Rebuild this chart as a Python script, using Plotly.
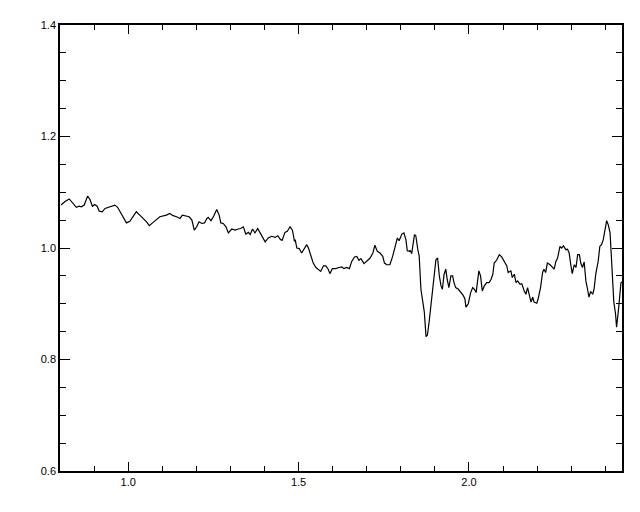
import plotly.graph_objects as go

wavelength = [
    0.803, 0.814, 0.827, 0.834, 0.842, 0.848, 0.856, 0.863, 0.871, 0.881,
    0.888, 0.892, 0.895, 0.902, 0.909, 0.915, 0.924, 0.932, 0.941, 0.951,
    0.961, 0.969, 0.976, 0.985, 0.995, 1.005, 1.015, 1.024, 1.034, 1.044,
    1.054, 1.062, 1.070, 1.081, 1.093, 1.103, 1.112, 1.122, 1.132, 1.142,
    1.148, 1.152, 1.159, 1.169, 1.179, 1.187, 1.194, 1.201, 1.208, 1.216,
    1.224, 1.231, 1.235, 1.243, 1.250, 1.260, 1.267, 1.272, 1.279, 1.287,
    1.294, 1.304, 1.314, 1.323, 1.330, 1.338, 1.345, 1.353, 1.358, 1.365,
    1.372, 1.380, 1.387, 1.394, 1.402, 1.411, 1.421, 1.431, 1.439, 1.447,
    1.452, 1.460, 1.467, 1.475, 1.482, 1.488,
    1.490, 1.495, 1.502, 1.509, 1.516, 1.524, 1.529, 1.536, 1.543, 1.551,
    1.558, 1.565, 1.573, 1.580, 1.587, 1.592, 1.599, 1.609, 1.619, 1.627,
    1.633, 1.641, 1.649, 1.656, 1.664, 1.671, 1.677, 1.683, 1.692, 1.700,
    1.710, 1.718, 1.724, 1.731, 1.739, 1.747, 1.752, 1.759, 1.768, 1.776,
    1.783, 1.790, 1.795, 1.803, 1.809, 1.815, 1.819, 1.825,
    1.827, 1.832, 1.840, 1.844, 1.850, 1.854, 1.859, 1.864, 1.869, 1.874,
    1.878, 1.883, 1.889, 1.892, 1.898, 1.903, 1.908, 1.913, 1.918, 1.922,
    1.927, 1.932, 1.936, 1.941, 1.947, 1.952, 1.956, 1.961, 1.969, 1.977,
    1.983, 1.988, 1.991, 1.998, 2.005, 2.011, 2.016, 2.021, 2.026, 2.029,
    2.034, 2.039, 2.045, 2.052, 2.059, 2.065, 2.070, 2.074, 2.081, 2.089,
    2.096, 2.104, 2.111, 2.115, 2.123, 2.127, 2.133, 2.138, 2.143, 2.150,
    2.155, 2.162, 2.167, 2.172, 2.177, 2.182, 2.187, 2.191, 2.199, 2.203,
    2.210, 2.216, 2.220, 2.225, 2.230, 2.238, 2.244, 2.250, 2.255, 2.260,
    2.267, 2.272, 2.277, 2.284, 2.289, 2.294, 2.298, 2.303, 2.309, 2.314,
    2.319, 2.324, 2.328, 2.333, 2.338, 2.343, 2.348, 2.352, 2.357, 2.363,
    2.367, 2.372, 2.379, 2.384, 2.389, 2.394, 2.399, 2.404, 2.409, 2.414,
    2.417, 2.421, 2.425, 2.430, 2.433, 2.438, 2.443, 2.446, 2.449,
]

flux = [
    1.077, 1.083, 1.088, 1.083, 1.077, 1.073, 1.075, 1.074, 1.077, 1.093,
    1.087, 1.081, 1.075, 1.078, 1.075, 1.066, 1.065, 1.071, 1.073, 1.074,
    1.077, 1.073, 1.065, 1.056, 1.045, 1.048, 1.056, 1.065, 1.059, 1.053,
    1.047, 1.040, 1.045, 1.050, 1.056, 1.057, 1.059, 1.062, 1.058, 1.056,
    1.055, 1.053, 1.059, 1.057, 1.056, 1.050, 1.032, 1.038, 1.047, 1.044,
    1.045, 1.053, 1.055, 1.049, 1.056, 1.069, 1.059, 1.045, 1.044, 1.038,
    1.027, 1.034, 1.032, 1.034, 1.035, 1.038, 1.025, 1.028, 1.024, 1.034,
    1.027, 1.035, 1.028, 1.021, 1.011, 1.018, 1.021, 1.019, 1.022, 1.015,
    1.014, 1.028, 1.030, 1.038, 1.032, 1.012,
    1.015, 1.000, 0.999, 0.991, 0.997, 1.006, 1.000, 0.985, 0.973, 0.965,
    0.962, 0.958, 0.968, 0.968, 0.962, 0.954, 0.963, 0.963, 0.965, 0.966,
    0.963, 0.965, 0.963, 0.976, 0.984, 0.985, 0.978, 0.981, 0.972, 0.976,
    0.982, 0.991, 1.005, 0.994, 0.991, 0.985, 0.973, 0.970, 0.970, 0.985,
    1.003, 1.018, 1.013, 1.025, 1.027, 1.015, 0.995, 0.994,
    0.996, 0.990, 1.024, 1.022, 0.997, 0.985, 0.926, 0.906, 0.885, 0.841,
    0.844, 0.867, 0.900, 0.920, 0.950, 0.979, 0.982, 0.950, 0.932, 0.926,
    0.953, 0.962, 0.944, 0.929, 0.950, 0.950, 0.938, 0.929, 0.926, 0.920,
    0.915, 0.909, 0.894, 0.900, 0.920, 0.929, 0.926, 0.920, 0.950, 0.959,
    0.950, 0.923, 0.932, 0.938, 0.938, 0.944, 0.953, 0.973, 0.978, 0.988,
    0.984, 0.976, 0.968, 0.956, 0.959, 0.947, 0.953, 0.938, 0.941, 0.935,
    0.936, 0.923, 0.917, 0.929, 0.917, 0.903, 0.912, 0.903, 0.901, 0.909,
    0.929, 0.956, 0.962, 0.956, 0.973, 0.970, 0.966, 0.962, 0.976, 0.982,
    1.003, 1.000, 1.004, 0.997, 0.998, 0.991, 0.973, 0.954, 0.970, 0.965,
    0.988, 0.988, 0.973, 0.965, 0.975, 0.941, 0.926, 0.912, 0.922, 0.917,
    0.926, 0.953, 0.976, 1.003, 1.006, 1.015, 1.032, 1.049, 1.041, 1.027,
    0.994, 0.944, 0.903, 0.882, 0.858, 0.885, 0.917, 0.938, 0.939,
]

x_range = [0.8, 2.449]
y_range = [0.6, 1.4]
x_tickvals = [1.0, 1.5, 2.0]
x_ticktext = ["1.0", "1.5", "2.0"]
y_tickvals = [0.6, 0.8, 1.0, 1.2, 1.4]
y_ticktext = ["0.6", "0.8", "1.0", "1.2", "1.4"]

fig = go.Figure()
fig.add_trace(go.Scatter(
    x=wavelength, y=flux, mode="lines",
    line=dict(color="black", width=1.2),
    showlegend=False,
))

font = dict(family="Liberation Sans, Arial, sans-serif", size=11, color="black")

# page body has an 8px margin, so the figure is offset by (8, 8)
fig.update_layout(
    width=632, height=504,
    margin=dict(l=52, r=18, t=11, b=41),
    paper_bgcolor="white", plot_bgcolor="white",
    font=font,
    xaxis=dict(
        range=x_range, showgrid=False, zeroline=False,
        showline=True, linecolor="black", linewidth=1.5, mirror="allticks",
        ticks="inside", ticklen=9, tickwidth=1, tickcolor="black",
        tickvals=x_tickvals, ticktext=x_ticktext, tickfont=font,
        minor=dict(ticks="inside", dtick=0.1, tick0=0, ticklen=5,
                   tickcolor="black", tickwidth=1, showgrid=False),
    ),
    yaxis=dict(
        range=y_range, showgrid=False, zeroline=False,
        showline=True, linecolor="black", linewidth=1.5, mirror="allticks",
        ticks="inside", ticklen=10, tickwidth=1, tickcolor="black",
        tickvals=y_tickvals, ticktext=y_ticktext, tickfont=font,
        ticklabelstandoff=0,
        minor=dict(ticks="inside", dtick=0.05, tick0=0, ticklen=6,
                   tickcolor="black", tickwidth=1, showgrid=False),
    ),
)

fig.write_html("out.html")
